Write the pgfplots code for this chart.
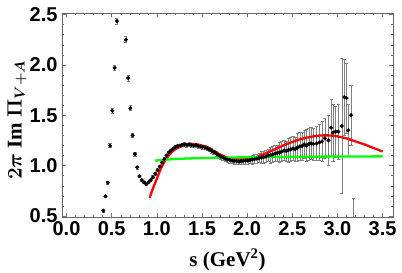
\documentclass[border=0pt]{standalone}
\usepackage{pgfplots}
\pgfplotsset{compat=1.18}
\usepackage{pgfplotstable}
\usepackage{fontspec}
\setmainfont{Liberation Serif}
\setsansfont{Liberation Sans}
\usepackage{amsmath}

\pgfplotstableread{
x y e
0.4075 0.553 0.013
0.4325 0.696 0.014
0.4575 0.830 0.016
0.4825 1.198 0.020
0.5075 1.545 0.025
0.5325 1.970 0.028
0.5575 2.435 0.030
0.5825 2.750 0.030
0.6075 2.850 0.030
0.6325 2.620 0.030
0.6575 2.250 0.030
0.6825 1.870 0.030
0.7075 1.570 0.025
0.7325 1.300 0.020
0.7575 1.115 0.018
0.7825 0.983 0.015
0.8075 0.897 0.012
0.8325 0.857 0.012
0.8575 0.835 0.012
0.8825 0.818 0.012
0.9075 0.835 0.012
0.9325 0.857 0.012
0.9575 0.885 0.015
0.9825 0.920 0.015
1.0075 0.955 0.015
1.0325 0.990 0.015
1.0575 1.030 0.015
1.0825 1.065 0.015
1.1075 1.100 0.015
1.1325 1.130 0.015
1.1575 1.150 0.015
1.1825 1.170 0.015
1.2075 1.185 0.015
1.2325 1.195 0.015
1.2575 1.200 0.015
1.2825 1.205 0.015
1.3075 1.210 0.018
1.3325 1.205 0.018
1.3575 1.210 0.018
1.3825 1.205 0.018
1.4075 1.200 0.018
1.4325 1.205 0.018
1.4575 1.195 0.018
1.4825 1.190 0.018
1.5075 1.185 0.018
1.5325 1.180 0.018
1.5575 1.170 0.018
1.5825 1.160 0.018
1.6075 1.150 0.022
1.6325 1.135 0.022
1.6575 1.120 0.022
1.6825 1.105 0.022
1.7075 1.090 0.022
1.7325 1.080 0.022
1.7575 1.070 0.022
1.7825 1.060 0.022
1.8075 1.055 0.030
1.8325 1.050 0.030
1.8575 1.045 0.030
1.8825 1.045 0.030
1.9075 1.040 0.030
1.9325 1.045 0.030
1.9575 1.045 0.035
1.9825 1.050 0.035
2.0075 1.050 0.035
2.0325 1.055 0.035
2.0575 1.060 0.045
2.0825 1.065 0.045
2.1075 1.070 0.045
2.1325 1.075 0.045
2.1575 1.080 0.060
2.1825 1.085 0.060
2.2075 1.090 0.060
2.2325 1.100 0.060
2.2575 1.105 0.080
2.2825 1.110 0.080
2.3075 1.120 0.080
2.3325 1.125 0.080
2.3575 1.130 0.100
2.3825 1.140 0.100
2.4075 1.150 0.100
2.4325 1.145 0.100
2.4575 1.155 0.120
2.4825 1.160 0.120
2.5075 1.170 0.120
2.5325 1.165 0.120
2.5575 1.180 0.140
2.5825 1.190 0.140
2.6075 1.195 0.140
2.6325 1.210 0.140
2.6575 1.200 0.160
2.6825 1.215 0.160
2.7075 1.220 0.160
2.7325 1.215 0.160
2.7700 1.220 0.170
2.8000 1.230 0.180
2.8300 1.240 0.200
2.8600 1.270 0.200
2.9000 1.250 0.250
2.9300 1.376 0.280
2.9500 1.327 0.280
2.9800 1.337 0.250
3.0100 1.337 0.270
3.0480 1.393 0.670
3.0750 1.680 0.380
3.1000 1.670 0.350
3.1200 1.350 0.260
3.1500 1.500 0.300
3.1750 0.100 0.580
}\datatable

\begin{document}
\begin{tikzpicture}
\path[use as bounding box] (-62bp,-56bp) rectangle (340bp,217bp);
\begin{axis}[
  at={(0,0)}, anchor=south west,
  scale only axis, width=331bp, height=204bp,
  xmin=-0.05, xmax=3.615, ymin=0.49, ymax=2.515,
  xtick={0,0.5,1,1.5,2,2.5,3,3.5}, ytick={0.5,1,1.5,2,2.5},
  minor x tick num=4, minor y tick num=4,
  tick align=inside,
  major tick length=4bp, minor tick length=2bp,
  tick style={black!55, line width=0.4pt},
  axis line style={black!60, line width=0.5pt},
  xticklabel={\pgfmathprintnumber[fixed,fixed zerofill,precision=1,assume math mode=true]{\tick}},
  yticklabel={\pgfmathprintnumber[fixed,fixed zerofill,precision=1,assume math mode=true]{\tick}},
  tick label style={font=\fontsize{20bp}{20bp}\selectfont\sffamily\bfseries},
  xticklabel style={yshift=-1bp},
  yticklabel style={xshift=-1bp},
  xlabel={\textbf{s (GeV$^{\mathbf{2}}$)}},
  ylabel={$\boldsymbol{2\pi}$ \textbf{Im} $\boldsymbol{\Pi_{V+A}}$},
  label style={font=\fontsize{21bp}{21bp}\selectfont\rmfamily\bfseries},
  xlabel style={at={(axis description cs:0.5,-0.211)}, anchor=center},
  ylabel style={at={(axis description cs:-0.136,0.475)}, anchor=center},
]
\addplot[only marks, mark=*, mark size=1.8bp, black,
  error bars/.cd, y dir=both, y explicit, error mark=|,
  error bar style={black!50, line width=0.45pt},
  error mark options={mark size=1.6bp, black!50, line width=0.45pt}]
  table[x=x, y=y, y error=e] {\datatable};
\addplot[red, line width=2.3bp, smooth] coordinates {
(0.92,0.68) (0.96,0.78) (1.0,0.87) (1.05,0.98) (1.1,1.06) (1.15,1.12) (1.2,1.16) (1.3,1.205) (1.4,1.215) (1.5,1.20) (1.6,1.16) (1.7,1.11) (1.8,1.075) (1.9,1.06) (2.0,1.065) (2.1,1.085) (2.2,1.12) (2.3,1.16) (2.4,1.20) (2.5,1.235) (2.6,1.265) (2.7,1.285) (2.8,1.298) (2.9,1.30) (3.0,1.29) (3.1,1.27) (3.2,1.24) (3.3,1.21) (3.4,1.175) (3.5,1.14)
};
\addplot[green, line width=2.3bp, smooth] coordinates {
(0.98,1.05) (1.2,1.065) (1.5,1.075) (2.0,1.083) (2.5,1.087) (3.0,1.09) (3.5,1.092)
};
\end{axis}
\end{tikzpicture}
\end{document}
